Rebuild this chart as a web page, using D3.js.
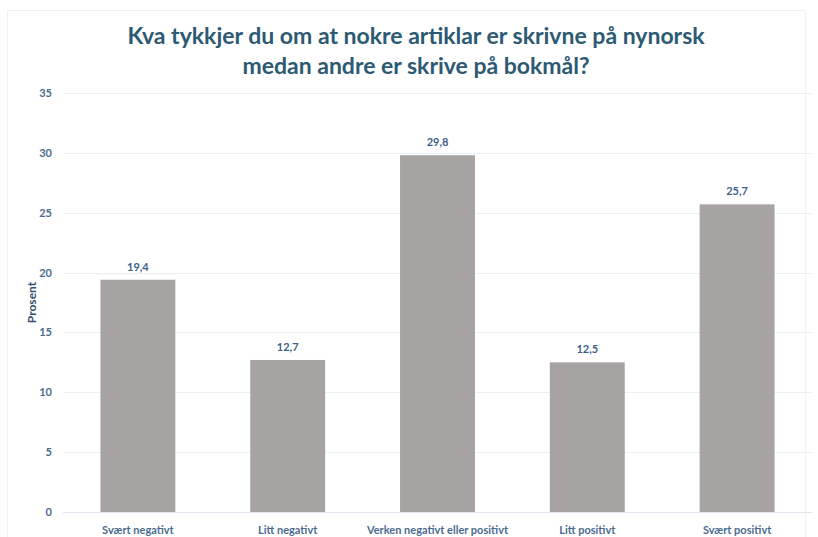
<!DOCTYPE html>
<html>
<head>
<meta charset="utf-8">
<script src="https://cdn.jsdelivr.net/npm/d3@7"></script>
<style>
  body { margin: 0; background: #fff; }
  svg { display: block; font-family: Lato, "Open Sans", sans-serif; }
</style>
</head>
<body>
<svg id="chart" width="818" height="537"></svg>
<script>
// data
const categories = ["Svært negativt", "Litt negativt", "Verken negativt eller positivt", "Litt positivt", "Svært positivt"];
const values = [19.4, 12.7, 29.8, 12.5, 25.7];
const yTicks = [0, 5, 10, 15, 20, 25, 30, 35];
const titleLines = ["Kva tykkjer du om at nokre artiklar er skrivne på nynorsk", "medan andre er skrive på bokmål?"];

const svg = d3.select("#chart");
const margin = { left: 63, right: 6, top: 93, bottom: 25 };
const W = 818, H = 537;

// faint outer border of the chart area
svg.append("path")
  .attr("d", `M7.5,537 V10.5 H805.5 V537`)
  .attr("fill", "none")
  .attr("stroke", "#eef2f7")
  .attr("stroke-width", 1);

const x = d3.scaleBand()
  .domain(categories)
  .range([margin.left, W - margin.right])
  .paddingInner(0.5)
  .paddingOuter(0.25);

const y = d3.scaleLinear()
  .domain([0, 35])
  .range([H - margin.bottom, margin.top]);

// gridlines
svg.append("g")
  .selectAll("line")
  .data(yTicks)
  .join("line")
  .attr("x1", margin.left)
  .attr("x2", W - margin.right)
  .attr("y1", d => Math.round(y(d)) + 0.5)
  .attr("y2", d => Math.round(y(d)) + 0.5)
  .attr("stroke", d => d === 0 ? "#dfe6ee" : "#eaeff5")
  .attr("stroke-width", 1);

// y axis labels
const yAxis = d3.axisLeft(y).tickValues(yTicks).tickSize(0).tickPadding(0);
const ya = svg.append("g")
  .attr("transform", `translate(52,0)`)
  .call(yAxis);
ya.select(".domain").remove();
ya.selectAll("text")
  .attr("fill", "#4a6b8f")
  .attr("font-size", 11)
  .attr("font-weight", "bold")
  .attr("font-family", "Lato, sans-serif");

// axis title
svg.append("text")
  .attr("transform", `translate(36,${(y(0) + y(35)) / 2}) rotate(-90)`)
  .attr("text-anchor", "middle")
  .attr("fill", "#2f4f6f")
  .attr("font-size", 12)
  .attr("font-weight", "bold")
  .text("Prosent");

// bars
svg.append("g")
  .selectAll("rect")
  .data(values)
  .join("rect")
  .attr("x", (d, i) => x(categories[i]))
  .attr("width", x.bandwidth())
  .attr("y", d => y(d))
  .attr("height", d => y(0) - y(d))
  .attr("fill", "#a6a3a2");

// value labels
svg.append("g")
  .selectAll("text")
  .data(values)
  .join("text")
  .attr("x", (d, i) => x(categories[i]) + x.bandwidth() / 2)
  .attr("y", d => y(d) - 9)
  .attr("text-anchor", "middle")
  .attr("fill", "#3d5f88")
  .attr("font-size", 11)
  .attr("font-weight", "bold")
  .text(d => String(d).replace(".", ","));

// x axis labels
const xAxis = d3.axisBottom(x).tickSize(0).tickPadding(0);
const xa = svg.append("g")
  .attr("transform", `translate(0,${y(0) + 14})`)
  .call(xAxis);
xa.select(".domain").remove();
xa.selectAll("text")
  .attr("fill", "#4a6b8f")
  .attr("font-size", 11)
  .attr("font-weight", "bold")
  .attr("font-family", "Lato, sans-serif");

// title
svg.append("g")
  .selectAll("text")
  .data(titleLines)
  .join("text")
  .attr("x", 416)
  .attr("y", (d, i) => 44 + i * 30)
  .attr("text-anchor", "middle")
  .attr("fill", "#2c5a73")
  .attr("font-size", 23)
  .attr("font-weight", "bold")
  .text(d => d);
</script>
</body>
</html>
